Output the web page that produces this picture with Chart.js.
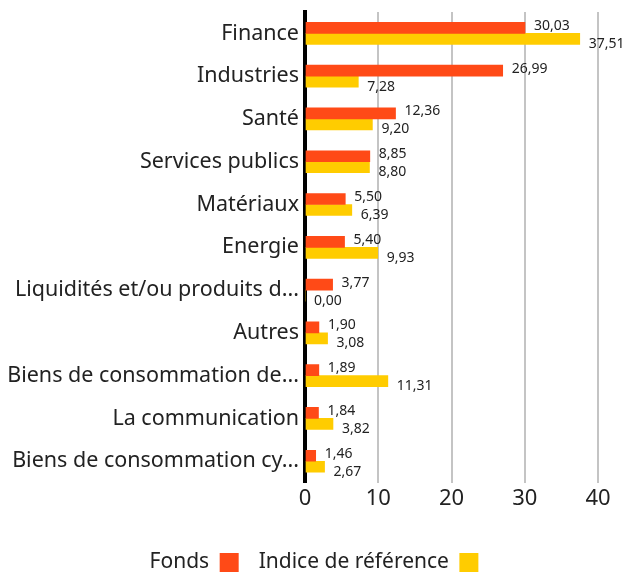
<!DOCTYPE html>
<html><head><meta charset="utf-8">
<script src="https://cdn.jsdelivr.net/npm/chart.js@4/dist/chart.umd.min.js"></script>
<style>html,body{margin:0;padding:0;background:#fff}#wrap{width:624px;height:576px}</style>
</head><body><div id="wrap"><canvas id="c" width="624" height="576"></canvas></div>
<script>
const categories = ["Finance","Industries","Santé","Services publics","Matériaux","Energie","Liquidités et/ou produits d...","Autres","Biens de consommation de...","La communication","Biens de consommation cy..."];
const fondsValues = [30.03,26.99,12.36,8.85,5.50,5.40,3.77,1.90,1.89,1.84,1.46];
const indiceValues = [37.51,7.28,9.20,8.80,6.39,9.93,0.00,3.08,11.31,3.82,2.67];
const xTicks = [0,10,20,30,40];
const seriesNames = ["Fonds","Indice de référence"];

const FONT = "'Noto Sans', sans-serif";
const fmt = v => v.toFixed(2).replace('.', ',');

const labelPlugin = {
  id: 'valueLabels',
  afterLayout(chart) {
    if (chart.legend) { chart.legend.left += 15; chart.legend.right += 15; }
  },
  afterDatasetsDraw(chart) {
    const ctx = chart.ctx;
    ctx.save();
    ctx.font = "14px " + FONT;
    ctx.fillStyle = '#222';
    ctx.textAlign = 'left';
    ctx.textBaseline = 'middle';
    chart.data.datasets.forEach((ds, di) => {
      const meta = chart.getDatasetMeta(di);
      meta.data.forEach((bar, i) => {
        const dy = di === 0 ? -2 : 5;
        ctx.fillText(fmt(ds.data[i]), bar.x + 9, bar.y + dy);
      });
    });
    ctx.restore();
  }
};

new Chart(document.getElementById('c'), {
  type: 'bar',
  data: {
    labels: categories,
    datasets: [
      { label: seriesNames[0], data: fondsValues, backgroundColor: '#FF4A17', barThickness: 11 },
      { label: seriesNames[1], data: indiceValues, backgroundColor: '#FFCC00', barThickness: 11 }
    ]
  },
  options: {
    indexAxis: 'y',
    responsive: false,
    animation: false,
    layout: { padding: { top: 12, right: 26, left: 0, bottom: -7 } },
    scales: {
      x: {
        min: 0, max: 40,
        afterBuildTicks(scale) { scale.ticks = xTicks.map(v => ({ value: v })); },
        afterFit(scale) { scale.height += 17; },
        grid: { color: '#c4c4c4', lineWidth: 2, drawTicks: false },
        border: { display: false },
        ticks: { font: { size: 22, family: FONT }, color: '#222', padding: 3 }
      },
      y: {
        afterFit(scale) { scale.paddingTop = 0; scale.paddingBottom = 0; scale.width = 305; },
        grid: { display: false, drawTicks: false },
        border: { display: true, color: '#000', width: 4 },
        ticks: { font: { size: 21.5, family: FONT }, color: '#222', padding: 6, autoSkip: false }
      }
    },
    plugins: {
      legend: {
        position: 'bottom',
        rtl: true,
        reverse: true,
        labels: { font: { size: 21, family: FONT }, color: '#222', boxWidth: 19, boxHeight: 19, padding: 20 }
      },
      tooltip: { enabled: false }
    }
  },
  plugins: [labelPlugin]
});
</script></body></html>
